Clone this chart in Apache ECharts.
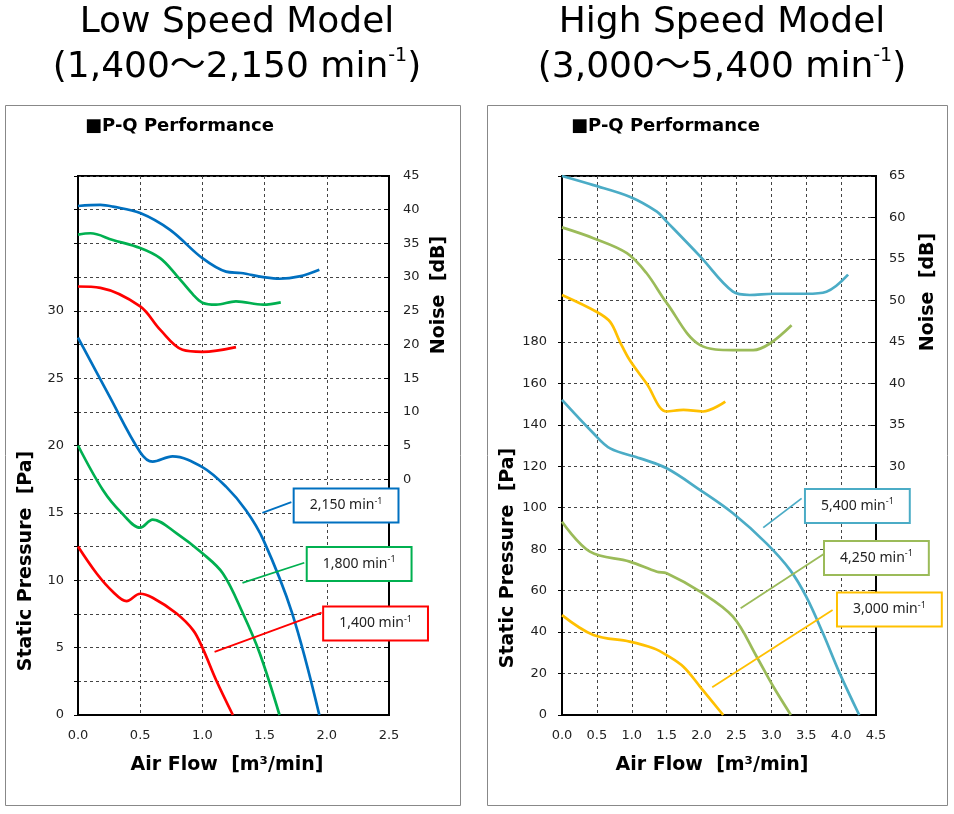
<!DOCTYPE html>
<html>
<head>
<meta charset="utf-8">
<script src="https://cdn.jsdelivr.net/npm/echarts@6/dist/echarts.min.js"></script>
<style>html,body{margin:0;padding:0;background:#fff;}#c{width:954px;height:814px;}</style>
</head>
<body>
<div id="c"></div>
<script>
// ---------- Low speed model data: [air flow m3/min, value] ----------
const lowPQ2150 = [[0,28.0],[0.25,23.7],[0.5,19.5],[0.6,18.8],[0.76,19.2],[1.0,18.4],[1.19,16.95],[1.35,15.2],[1.49,13.0],[1.72,7.6],[1.94,0]];
const lowPQ1800 = [[0,20.0],[0.2,16.7],[0.35,15.0],[0.5,13.9],[0.6,14.5],[0.79,13.5],[1.0,12.0],[1.165,10.5],[1.325,7.55],[1.46,4.6],[1.62,0]];
const lowPQ1400 = [[0,12.5],[0.15,10.5],[0.28,9.15],[0.39,8.45],[0.5,9.0],[0.6,8.7],[0.79,7.55],[0.925,6.3],[1.0,5.0],[1.11,2.6],[1.245,0]];
const lowNoise2150 = [[0,40.55],[0.18,40.7],[0.28,40.45],[0.5,39.5],[0.74,37.0],[1.0,32.8],[1.19,30.8],[1.31,30.6],[1.49,30.0],[1.62,29.75],[1.78,30.1],[1.94,31.1]];
const lowNoise1800 = [[0,36.3],[0.1,36.5],[0.28,35.5],[0.5,34.3],[0.66,32.8],[0.79,30.3],[0.925,27.4],[1.0,26.2],[1.11,25.9],[1.27,26.4],[1.49,25.9],[1.63,26.25]];
const lowNoise1400 = [[0,28.6],[0.18,28.4],[0.5,25.65],[0.66,22.2],[0.84,19.2],[1.0,18.9],[1.27,19.6]];

// ---------- High speed model data ----------
const highPQ5400 = [[0,152],[0.45,135.9],[0.69,128.6],[1.12,123.8],[1.5,119.0],[1.98,108.5],[2.45,97.3],[2.93,82.8],[3.27,69.9],[3.5,57.1],[3.74,39.4],[3.98,20.1],[4.26,0]];
const highPQ4250 = [[0,93.2],[0.4,78.8],[0.97,74.0],[1.36,69.1],[1.5,68.4],[1.98,59.5],[2.45,47.4],[2.79,28.1],[3.03,13.6],[3.28,0]];
const highPQ3000 = [[0,48.2],[0.45,38.6],[0.97,35.4],[1.31,32.2],[1.5,28.9],[1.74,23.3],[1.98,13.6],[2.31,0]];
const highNoise5400 = [[0,65.0],[0.45,63.9],[0.97,62.5],[1.36,60.7],[1.5,59.5],[1.98,55.3],[2.45,51.05],[2.69,50.65],[3.03,50.8],[3.5,50.8],[3.79,51.05],[4.1,53.1]];
const highNoise4250 = [[0,58.8],[0.45,57.5],[0.93,55.7],[1.21,53.3],[1.5,49.7],[1.98,44.6],[2.45,44.0],[2.74,44.0],[2.98,44.8],[3.29,47.0]];
const highNoise3000 = [[0,50.65],[0.5,48.6],[0.69,47.4],[0.83,45.0],[0.97,42.8],[1.21,40.0],[1.5,36.6],[1.74,36.8],[2.02,36.6],[2.34,37.8]];

// ---------- Labels ----------
const lowSpeeds = ['2,150', '1,800', '1,400'];
const highSpeeds = ['5,400', '4,250', '3,000'];
const titles = [['Low Speed Model', '(1,400～2,150 min'], ['High Speed Model', '(3,000～5,400 min']];

// callout anchors (data coordinates): leader start, leader end, box centre
const lowCallouts = [
  {from:[1.482,15.0], to:[1.715,15.8], box:[2.155,15.55]},
  {from:[1.322,9.80], to:[1.819,11.3], box:[2.26,11.21]},
  {from:[1.098,4.68], to:[1.958,7.6], box:[2.392,6.79]}
];
const highCallouts = [
  {from:[2.884,90.4], to:[3.434,104.5], box:[4.233,100.8]},
  {from:[2.56,51.5], to:[3.768,78.0], box:[4.506,75.7]},
  {from:[2.153,13.4], to:[3.878,50.6], box:[4.692,50.9]}
];

const lowColors = ['#0070C0', '#00B050', '#FF0000'];
const highColors = ['#4BACC6', '#9BBB59', '#FFC000'];

const FONT = "'DejaVu Sans', 'Noto Sans CJK JP', sans-serif";
const chart = echarts.init(document.getElementById('c'), null, {renderer: 'canvas'});

function lineSeries(data, color, xi, yi, callout) {
  const s = {
    type: 'line', data: data, xAxisIndex: xi, yAxisIndex: yi,
    smooth: 0.35, symbol: 'none', clip: false,
    lineStyle: {color: color, width: 2.7}, itemStyle: {color: color},
    z: 3
  };
  if (callout) {
    s.markLine = {
      silent: true, symbol: ['none', 'none'], animation: false,
      lineStyle: {color: color, width: 1.8, type: 'solid'},
      label: {show: false},
      data: [[{coord: callout.from}, {coord: callout.to}]]
    };
  }
  return s;
}

const axisLabelStyle = {fontFamily: FONT, fontSize: 13, color: '#222'};
const dashed = {show: true, lineStyle: {color: '#444', type: [3, 3], width: 1}};

function xAxis(gi, max) {
  return {
    type: 'value', gridIndex: gi, min: 0, max: max, interval: 0.5,
    axisLine: {show: true, lineStyle: {color: '#000', width: 2}},
    axisTick: {show: false},
    axisLabel: Object.assign({margin: 14, formatter: v => v.toFixed(1)}, axisLabelStyle),
    splitLine: dashed
  };
}

const titleRich = {
  n: {fontFamily: FONT, fontSize: 36, fontWeight: 'normal', color: '#000', lineHeight: 42},
  s: {fontFamily: FONT, fontSize: 19, fontWeight: 'normal', color: '#000', lineHeight: 42, verticalAlign: 'top'}
};

const baseGraphic = [
  {type: 'rect', shape: {x: 5.5, y: 105.5, width: 455, height: 700}, style: {fill: 'none', stroke: '#888', lineWidth: 1}, z: -10, silent: true},
  {type: 'rect', shape: {x: 487.5, y: 105.5, width: 460, height: 700}, style: {fill: 'none', stroke: '#888', lineWidth: 1}, z: -10, silent: true},
  {type: 'text', x: 85, y: 126, style: {text: '■P-Q Performance', font: "bold 18px 'DejaVu Sans', sans-serif", fill: '#000', verticalAlign: 'middle', align: 'left'}},
  {type: 'text', x: 571, y: 126, style: {text: '■P-Q Performance', font: "bold 18px 'DejaVu Sans', sans-serif", fill: '#000', verticalAlign: 'middle', align: 'left'}},
  {type: 'text', x: 227, y: 765, style: {text: 'Air Flow  [m³/min]', font: "bold 19px 'DejaVu Sans', sans-serif", fill: '#000', verticalAlign: 'middle', align: 'center'}},
  {type: 'text', x: 712, y: 765, style: {text: 'Air Flow  [m³/min]', font: "bold 19px 'DejaVu Sans', sans-serif", fill: '#000', verticalAlign: 'middle', align: 'center'}},
  {type: 'text', x: 26, y: 561, rotation: Math.PI / 2, style: {text: 'Static Pressure  [Pa]', font: "bold 19px 'DejaVu Sans', sans-serif", fill: '#000', verticalAlign: 'middle', align: 'center'}},
  {type: 'text', x: 508, y: 558, rotation: Math.PI / 2, style: {text: 'Static Pressure  [Pa]', font: "bold 19px 'DejaVu Sans', sans-serif", fill: '#000', verticalAlign: 'middle', align: 'center'}},
  {type: 'text', x: 439, y: 295, rotation: Math.PI / 2, style: {text: 'Noise  [dB]', font: "bold 19px 'DejaVu Sans', sans-serif", fill: '#000', verticalAlign: 'middle', align: 'center'}},
  {type: 'text', x: 928, y: 292, rotation: Math.PI / 2, style: {text: 'Noise  [dB]', font: "bold 19px 'DejaVu Sans', sans-serif", fill: '#000', verticalAlign: 'middle', align: 'center'}}
];

const option = {
  animation: false,
  backgroundColor: '#fff',
  title: [
    {text: titles[0][0], left: 232, top: 0, textAlign: 'center', textStyle: {fontFamily: FONT, fontSize: 36, fontWeight: 'normal', color: '#000'}},
    {text: '{n|' + titles[0][1] + '}{s|-1}{n|)}', left: 232, top: 42, textAlign: 'center', textStyle: {fontWeight: 'normal', rich: titleRich}},
    {text: titles[1][0], left: 717, top: 0, textAlign: 'center', textStyle: {fontFamily: FONT, fontSize: 36, fontWeight: 'normal', color: '#000'}},
    {text: '{n|' + titles[1][1] + '}{s|-1}{n|)}', left: 717, top: 42, textAlign: 'center', textStyle: {fontWeight: 'normal', rich: titleRich}}
  ],
  grid: [
    {left: 78, top: 176, width: 311, height: 539, show: true, borderColor: '#000', borderWidth: 2, backgroundColor: '#fff'},
    {left: 562, top: 176, width: 314, height: 539, show: true, borderColor: '#000', borderWidth: 2, backgroundColor: '#fff'}
  ],
  xAxis: [xAxis(0, 2.5), xAxis(1, 4.5)],
  yAxis: [
    {type: 'value', gridIndex: 0, position: 'left', min: 0, max: 40, interval: 2.5,
      axisLine: {show: true, lineStyle: {color: '#000', width: 2}},
      axisTick: {show: true, inside: false, length: 4, lineStyle: {color: '#000'}},
      axisLabel: Object.assign({margin: 14, formatter: v => (v % 5 === 0 && v <= 30) ? String(v) : ''}, axisLabelStyle),
      splitLine: dashed},
    {type: 'value', gridIndex: 0, position: 'right', min: -35, max: 45, interval: 5,
      axisLine: {show: true, lineStyle: {color: '#000', width: 2}},
      axisTick: {show: true, inside: true, length: 5, lineStyle: {color: '#000'}},
      axisLabel: Object.assign({margin: 14, formatter: v => v >= 0 ? String(v) : ''}, axisLabelStyle),
      splitLine: {show: false}},
    {type: 'value', gridIndex: 1, position: 'left', min: 0, max: 260, interval: 20,
      axisLine: {show: true, lineStyle: {color: '#000', width: 2}},
      axisTick: {show: true, inside: false, length: 4, lineStyle: {color: '#000'}},
      axisLabel: Object.assign({margin: 15, formatter: v => v <= 180 ? String(v) : ''}, axisLabelStyle),
      splitLine: dashed},
    {type: 'value', gridIndex: 1, position: 'right', min: 0, max: 65, interval: 5,
      axisLine: {show: true, lineStyle: {color: '#000', width: 2}},
      axisTick: {show: true, inside: true, length: 5, lineStyle: {color: '#000'}},
      axisLabel: Object.assign({margin: 13, formatter: v => v >= 30 ? String(v) : ''}, axisLabelStyle),
      splitLine: {show: false}}
  ],
  series: [
    lineSeries(lowPQ2150, lowColors[0], 0, 0, lowCallouts[0]),
    lineSeries(lowPQ1800, lowColors[1], 0, 0, lowCallouts[1]),
    lineSeries(lowPQ1400, lowColors[2], 0, 0, lowCallouts[2]),
    lineSeries(lowNoise2150, lowColors[0], 0, 1),
    lineSeries(lowNoise1800, lowColors[1], 0, 1),
    lineSeries(lowNoise1400, lowColors[2], 0, 1),
    lineSeries(highPQ5400, highColors[0], 1, 2, highCallouts[0]),
    lineSeries(highPQ4250, highColors[1], 1, 2, highCallouts[1]),
    lineSeries(highPQ3000, highColors[2], 1, 2, highCallouts[2]),
    lineSeries(highNoise5400, highColors[0], 1, 3),
    lineSeries(highNoise4250, highColors[1], 1, 3),
    lineSeries(highNoise3000, highColors[2], 1, 3)
  ],
  graphic: baseGraphic
};
chart.setOption(option);

// callout boxes, positioned through the axes' own scales
function boxGraphic(finder, callout, speed, color) {
  const p = chart.convertToPixel(finder, callout.box);
  return {
    type: 'text', x: p[0], y: p[1], z: 20, silent: true,
    style: {
      text: '{a|' + speed + ' min}{s|-1}',
      align: 'center', verticalAlign: 'middle',
      backgroundColor: '#fff', borderColor: color, borderWidth: 2,
      padding: [7, 15, 7, 15],
      rich: {
        a: {fontSize: 14, fontFamily: "'Noto Sans', sans-serif", fill: '#222', lineHeight: 18},
        s: {fontSize: 9, fontFamily: "'Noto Sans', sans-serif", fill: '#222', lineHeight: 18, verticalAlign: 'top'}
      }
    }
  };
}
const boxes = [];
for (let i = 0; i < 3; i++) {
  boxes.push(boxGraphic({xAxisIndex: 0, yAxisIndex: 0}, lowCallouts[i], lowSpeeds[i], lowColors[i]));
  boxes.push(boxGraphic({xAxisIndex: 1, yAxisIndex: 2}, highCallouts[i], highSpeeds[i], highColors[i]));
}
chart.setOption({graphic: baseGraphic.concat(boxes)});
</script>
</body>
</html>
